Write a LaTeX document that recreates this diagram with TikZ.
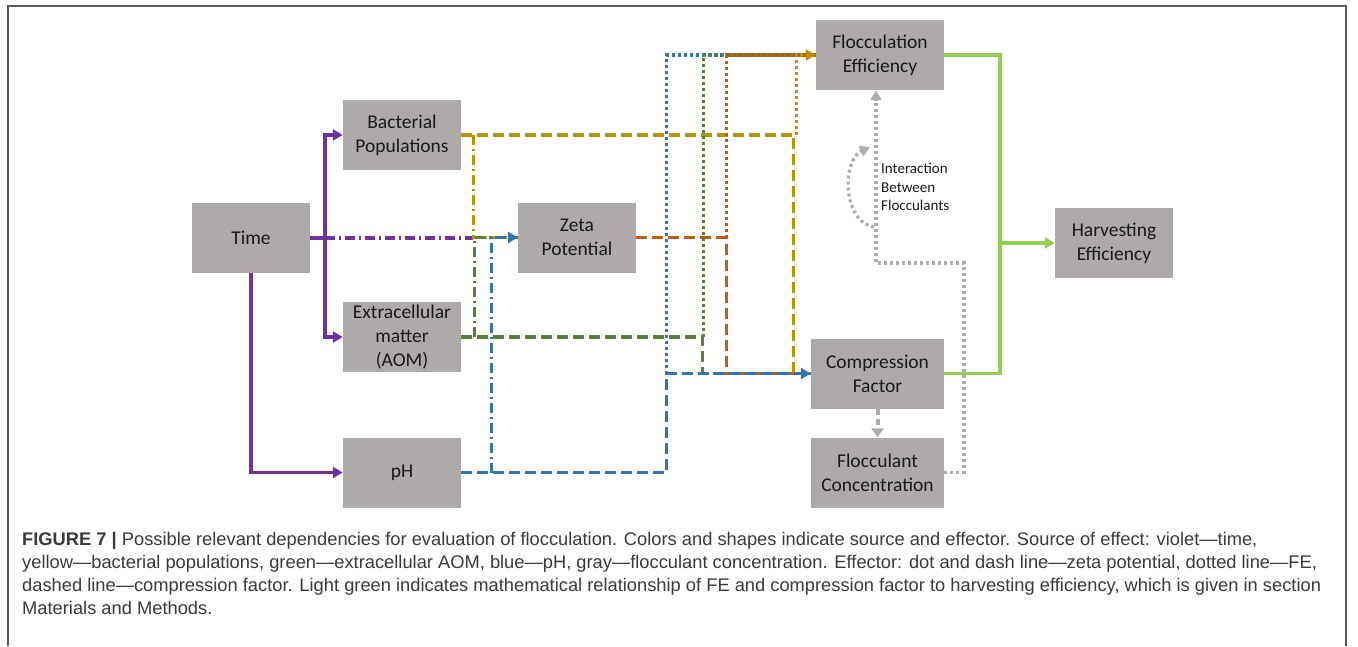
\documentclass[tikz,border=0pt]{standalone}
\usepackage{fontspec}
\setmainfont{Carlito}
\newfontfamily\capfont{Liberation Sans}
\usepackage{xcolor}
\usetikzlibrary{calc,arrows.meta}
\definecolor{boxgray}{HTML}{AEAAAA}
\definecolor{vio}{HTML}{7030A0}
\definecolor{gold}{HTML}{BF9000}
\definecolor{dgreen}{HTML}{538135}
\definecolor{phblue}{HTML}{2E75B6}
\definecolor{orng}{HTML}{C55A11}
\definecolor{lgreen}{HTML}{92D050}
\definecolor{lgray}{HTML}{AFABAB}
\definecolor{capgray}{HTML}{3A3A3A}
\definecolor{framec}{HTML}{5A5A5A}
\tikzset{>={Triangle[length=10pt,width=11pt]},
  box/.style={fill=boxgray, minimum width=118pt, minimum height=70pt, inner sep=0pt, align=center, text=black!90, font=\fontsize{19.5}{24}\selectfont},
  lk/.style={line width=3.2pt},
  dsh/.style={lk, dash pattern=on 11pt off 5pt},
  dts/.style={lk, dash pattern=on 3pt off 3pt},
  dshdot/.style={lk, dash pattern=on 10pt off 4pt on 2pt off 4pt}}

\begin{document}
\begin{tikzpicture}[x=1pt,y=-1pt]
  \useasboundingbox (0,0) rectangle (1358,646);
  \draw[framec, line width=1.5pt] (8,646) -- (8,6) -- (1346,6) -- (1346,646);

  \node[box] (time) at (251,238) {Time};
  \node[box] (bact) at (402,135) {Bacterial\\Populations};
  \node[box] (aom) at (402,337) {Extracellular\\matter\\(AOM)};
  \node[box] (ph) at (402,472.5) {pH};
  \node[box] (zeta) at (577,237.5) {Zeta\\Potential};
  \node[box, minimum width=128pt] (fe) at (880,55) {Flocculation\\Efficiency};
  \node[box, minimum width=133pt] (cf) at (877.5,373.5) {Compression\\Factor};
  \node[box, minimum width=133pt] (fc) at (877.5,472.5) {Flocculant\\Concentration};
  \node[box] (harv) at (1114,243) {Harvesting\\Efficiency};

  \coordinate (tj) at (325,238);
  \coordinate (zj) at (473,238);
  \draw[vio,lk] (time.east) -- (tj);
  \draw[vio,lk,->] (tj) |- (bact.west);
  \draw[vio,lk,->] (tj) |- (aom.west);
  \draw[vio,lk,->] (time.south) |- (ph.west);
  \draw[vio,dshdot] (tj) -- (zj);

  \coordinate (oj) at ($(zeta.east)+(90,0)$);
  \draw[orng,dsh] (zeta.east) -- (oj) |- (cf.west);
  \draw[dgreen,dsh] (aom.east) -| ($(cf.west)+(-108,0)$) -- (cf.west);
  \draw[gold,dsh] (bact.east) -| ($(cf.west)+(-17,0)$) -- (cf.west);
  \draw[gold,dshdot] ($(bact.east)+(12,0)$) |- (zeta.west);
  \draw[dgreen,dshdot] ($(aom.east)+(13,0)$) |- (zeta.west);
  \draw[phblue,dshdot,->] ($(ph.east)+(30,0)$) |- (zeta.west);
  \draw[phblue,dsh,->] (ph.east) -| ($(cf.west)+(-144,0)$) -- (cf.west);

  \draw[phblue,dts] ($(cf.west)+(-144,0)$) |- (fe.west);
  \draw[dgreen,dts] ($(aom.east)+(242,0)$) |- (fe.west);
  \draw[orng,dts] (oj) |- (fe.west);
  \draw[gold,dts,->] ($(bact.east)+(335,0)$) |- (fe.west);

  \coordinate (hj) at (1000,243);
  \draw[lgreen,lk] (fe.east) -| (hj) |- (cf.east);
  \draw[lgreen,lk,->] (hj) -- (harv.west);

  \coordinate (gc) at (964,263);
  \coordinate (ia) at (874,227);
  \coordinate (ib) at (870,147);
  \draw[lgray,line width=4pt,dash pattern=on 6pt off 4pt,-{Triangle[length=9pt,width=12pt]}] (cf.south) -- (fc.north);
  \draw[lgray,dts,->] (fc.east) -| (gc) -| ($(fe.south)+(-4,0)$);
  \draw[lgray,dts,->] (ia) .. controls (842,222) and (842,160) .. (ib);
  \node[anchor=west, inner sep=0pt, align=left, text=black!90, font=\fontsize{15}{18.5}\selectfont] (inter) at (881,187) {Interaction\\Between\\Flocculants};

  \node[anchor=north west, inner sep=0pt, align=left, text=capgray, font=\capfont\fontsize{18.3}{23}\selectfont] (cap) at (22,532) {\textbf{FIGURE 7 |} Possible relevant dependencies for evaluation of flocculation. Colors and shapes indicate source and effector. Source of effect: violet—time,\\
yellow—bacterial populations, green—extracellular AOM, blue—pH, gray—flocculant concentration. Effector: dot and dash line—zeta potential, dotted line—FE,\\
dashed line—compression factor. Light green indicates mathematical relationship of FE and compression factor to harvesting efficiency, which is given in section\\
Materials and Methods.};
\end{tikzpicture}
\end{document}
